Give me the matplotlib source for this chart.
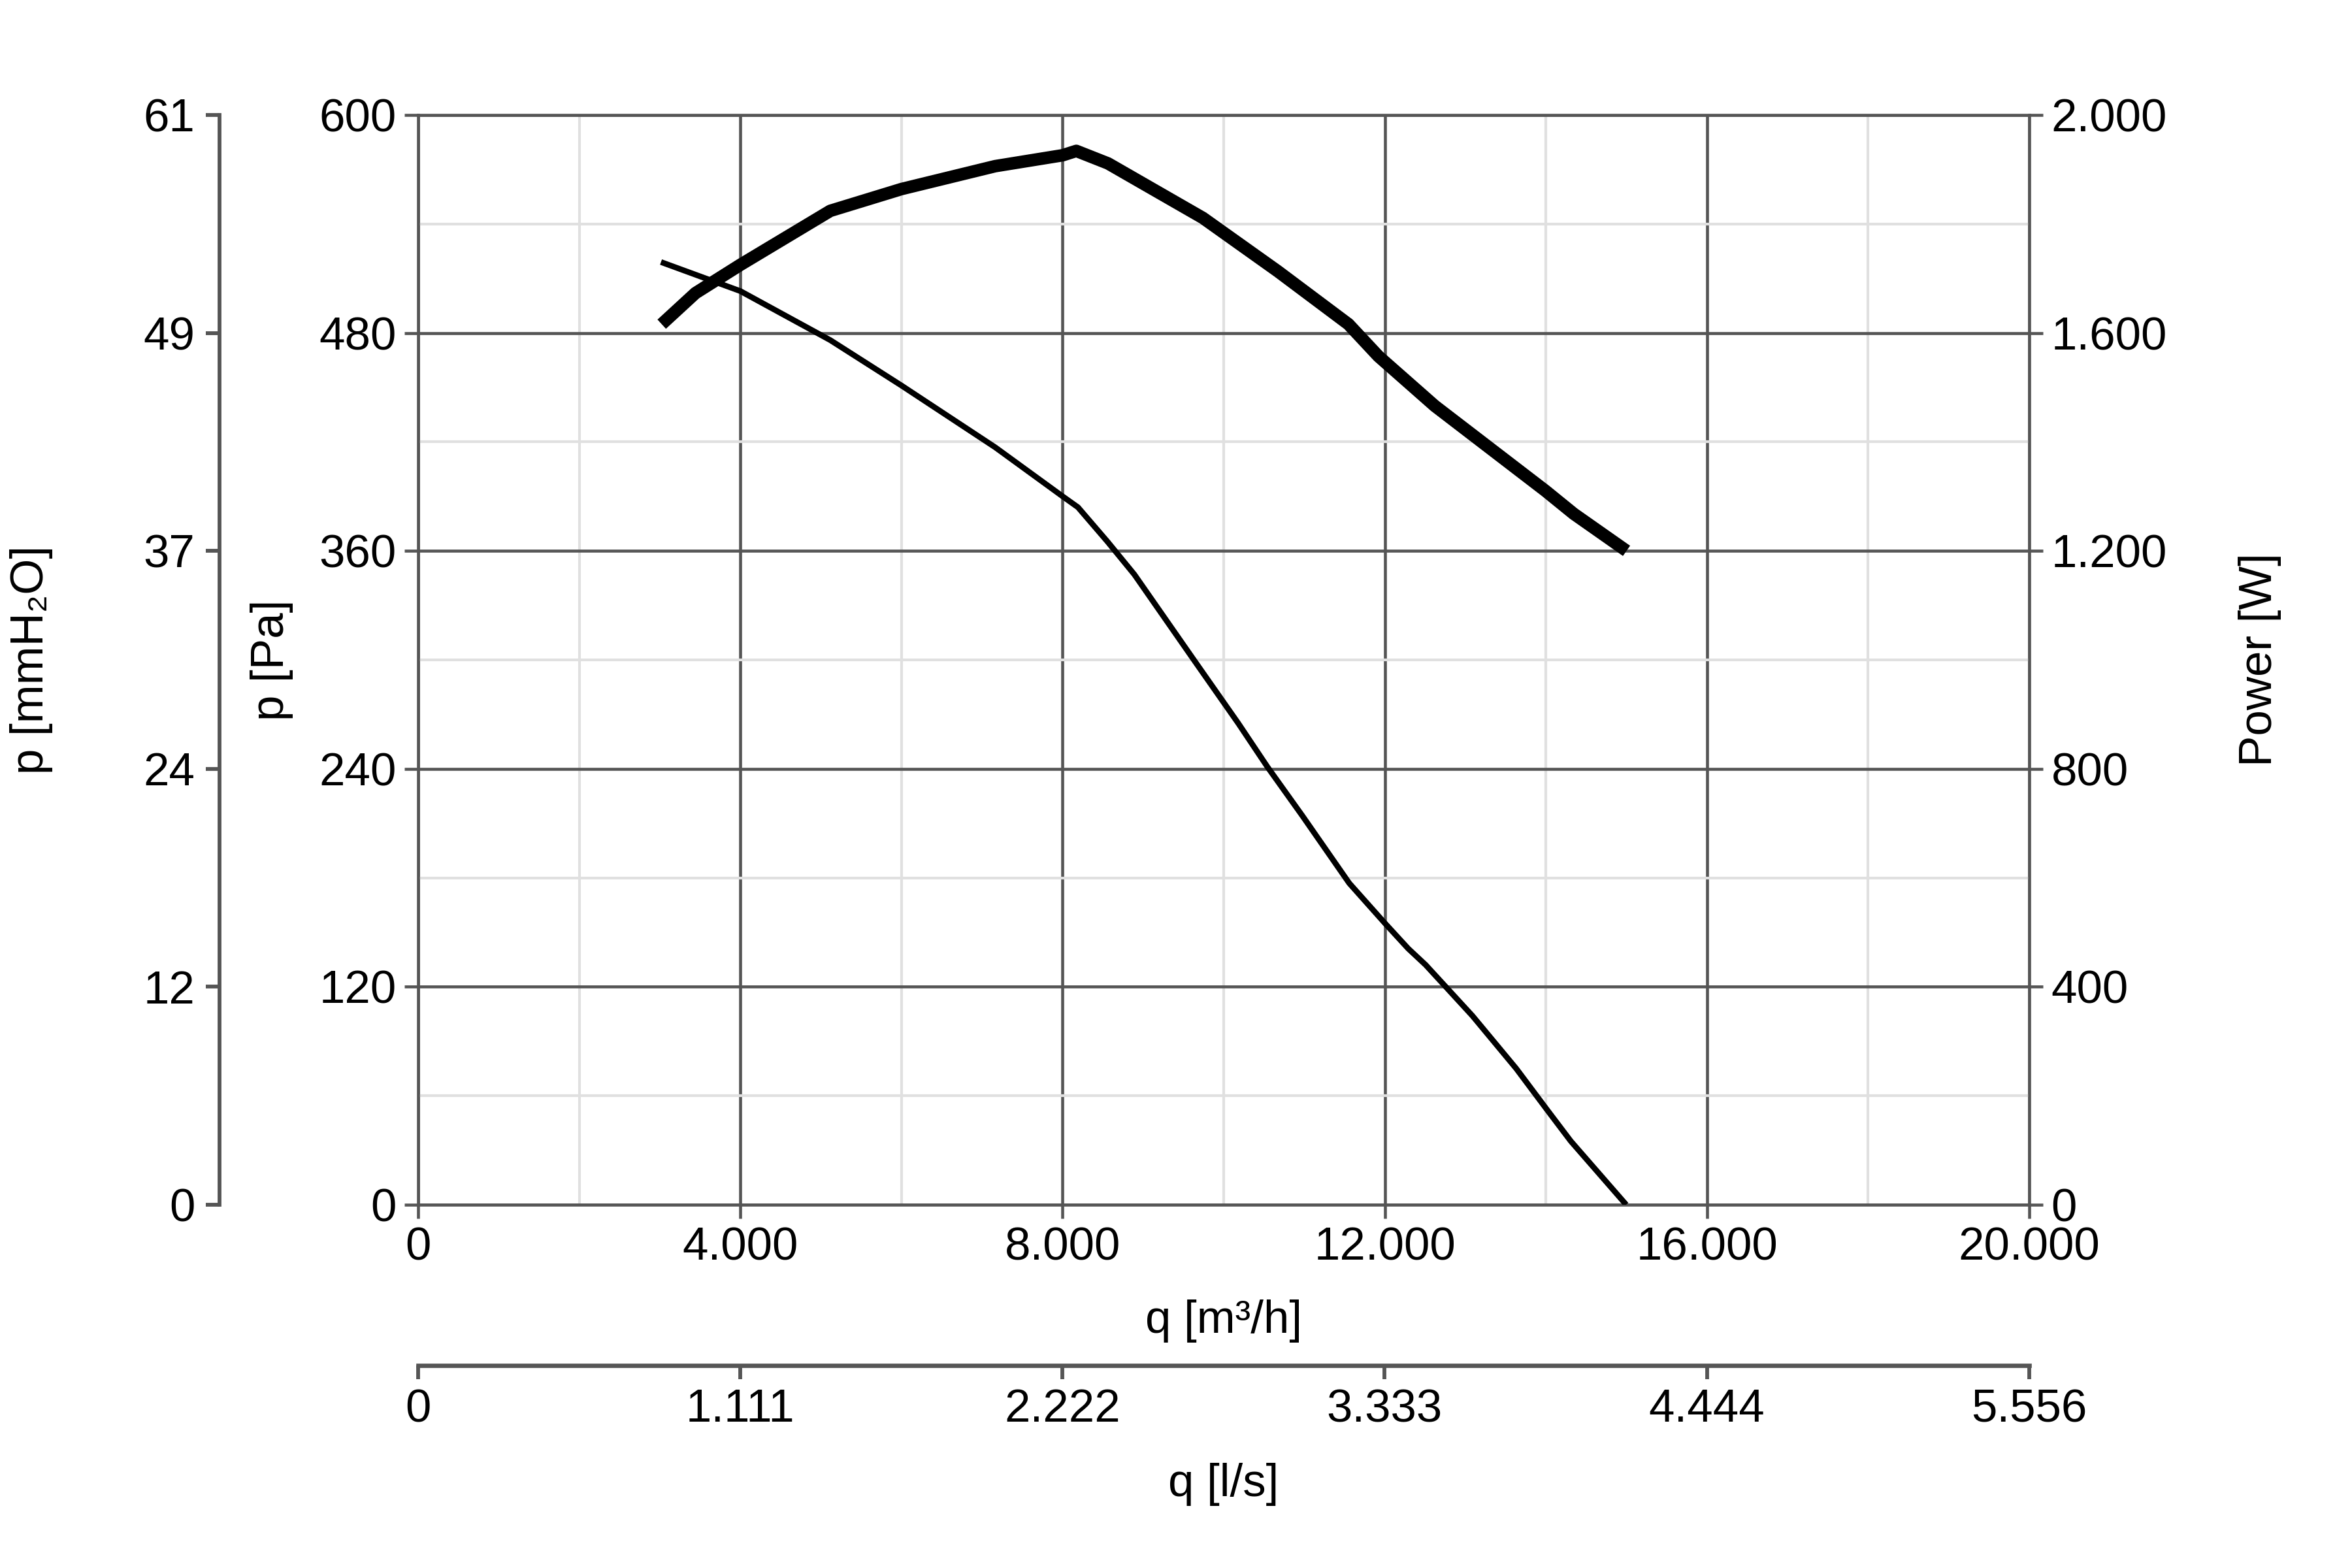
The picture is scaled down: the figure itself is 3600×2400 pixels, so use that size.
import matplotlib
matplotlib.use("Agg")
import matplotlib.pyplot as plt
from matplotlib.ticker import FixedLocator, MultipleLocator

plt.rcParams['font.family'] = ['Liberation Sans', 'DejaVu Sans']

# ---- data ----
q_pressure = [3014, 4000, 5116, 6000, 7163, 8000, 8190, 8558, 8890, 9644, 10181,
              10543, 10978, 11558, 12000, 12290, 12507, 13087, 13630, 14018, 14308, 14996]
p_pressure = [519, 503, 476, 451, 417, 390, 384, 365, 347, 299, 265,
              241, 214, 177, 155, 141, 132, 104, 75, 52, 35, 0]

q_power = [3023, 3442, 4000, 5116, 6000, 7163, 8000, 8170, 8564, 9741, 10672,
           11548, 11921, 12620, 13995, 14345, 15000]
w_power = [1616, 1673, 1725, 1824, 1864, 1906, 1926, 1934, 1911, 1811, 1713,
           1616, 1557, 1466, 1310, 1268, 1200]

q_ticks = [0, 4000, 8000, 12000, 16000, 20000]
q_labels = ["0", "4.000", "8.000", "12.000", "16.000", "20.000"]
pa_ticks = [0, 120, 240, 360, 480, 600]
pa_labels = ["0", "120", "240", "360", "480", "600"]
mm_labels = ["0", "12", "24", "37", "49", "61"]
w_ticks = [0, 400, 800, 1200, 1600, 2000]
w_labels = ["0", "400", "800", "1.200", "1.600", "2.000"]
ls_ticks = [0, 1.111, 2.222, 3.333, 4.444, 5.556]
ls_labels = ["0", "1.111", "2.222", "3.333", "4.444", "5.556"]

FS = 17
DARK = '#555555'
LIGHT = '#e0e0e0'

fig = plt.figure(figsize=(12, 8), dpi=300)
ax = fig.add_axes([0.1778, 0.2317, 0.6850, 0.6950])
ax.set_xlim(0, 20000)
ax.set_ylim(0, 600)
ax.xaxis.set_major_locator(FixedLocator(q_ticks))
ax.set_xticklabels(q_labels)
ax.yaxis.set_major_locator(FixedLocator(pa_ticks))
ax.set_yticklabels(pa_labels)
ax.xaxis.set_minor_locator(MultipleLocator(2000))
ax.yaxis.set_minor_locator(MultipleLocator(60))
ax.grid(which='minor', color=LIGHT, lw=1.0, zorder=0)
ax.grid(which='major', color=DARK, lw=1.1, zorder=1)
ax.set_axisbelow(True)
ax.tick_params(which='minor', length=0)
ax.tick_params(which='major', length=5, width=1.1, color=DARK, labelsize=FS, pad=3)
for s in ax.spines.values():
    s.set_color(DARK)
    s.set_linewidth(1.1)

ax.plot(q_pressure, p_pressure, color='black', lw=2.1, solid_capstyle='butt', zorder=3)

ax.set_xlabel("q [m³/h]", fontsize=FS, va='center')
ax.xaxis.set_label_coords(0.5, -0.1066)
ax.set_ylabel("p [Pa]", fontsize=FS, va='center')
ax.yaxis.set_label_coords(-0.091, 0.5)

# power axis (right)
ax2 = ax.twinx()
ax2.set_ylim(0, 2000)
ax2.yaxis.set_major_locator(FixedLocator(w_ticks))
ax2.set_yticklabels(w_labels)
ax2.tick_params(length=5, width=1.1, color=DARK, labelsize=FS, pad=3)
for s in ax2.spines.values():
    s.set_visible(False)
ax2.plot(q_power, w_power, color='black', lw=4.6, solid_capstyle='butt',
         solid_joinstyle='round', zorder=3)
ax2.set_ylabel("Power [W]", fontsize=FS, va='center', rotation=90)
ax2.yaxis.set_label_coords(1.143, 0.5)

# mmH2O axis (offset left)
ax3 = ax.twinx()
ax3.set_ylim(0, 600)
for k in ['top', 'right', 'bottom']:
    ax3.spines[k].set_visible(False)
ax3.spines['left'].set_visible(True)
ax3.spines['left'].set_position(('outward', 73))
ax3.spines['left'].set_color(DARK)
ax3.spines['left'].set_linewidth(1.4)
ax3.yaxis.set_ticks_position('left')
ax3.yaxis.set_label_position('left')
ax3.yaxis.set_major_locator(FixedLocator(pa_ticks))
ax3.set_yticklabels(mm_labels)
ax3.tick_params(length=5, width=1.4, color=DARK, labelsize=FS, pad=4)
ax3.set_ylabel("p [mmH₂O]", fontsize=FS, va='center')
ax3.yaxis.set_label_coords(-0.2403, 0.5)

# l/s axis (offset bottom)
ax4 = ax.twiny()
ax4.set_xlim(0, ls_ticks[-1])
for k in ['top', 'right', 'left']:
    ax4.spines[k].set_visible(False)
ax4.spines['bottom'].set_visible(True)
ax4.spines['bottom'].set_position(('outward', 59))
ax4.spines['bottom'].set_color(DARK)
ax4.spines['bottom'].set_linewidth(1.6)
ax4.xaxis.set_ticks_position('bottom')
ax4.xaxis.set_label_position('bottom')
ax4.xaxis.set_major_locator(FixedLocator(ls_ticks))
ax4.set_xticklabels(ls_labels)
ax4.tick_params(length=5, width=1.4, color=DARK, labelsize=FS, pad=3.5)
ax4.set_xlabel("q [l/s]", fontsize=FS, va='center')
ax4.xaxis.set_label_coords(0.5, -0.2569)

fig.savefig("out.png", dpi=300, facecolor='white')
